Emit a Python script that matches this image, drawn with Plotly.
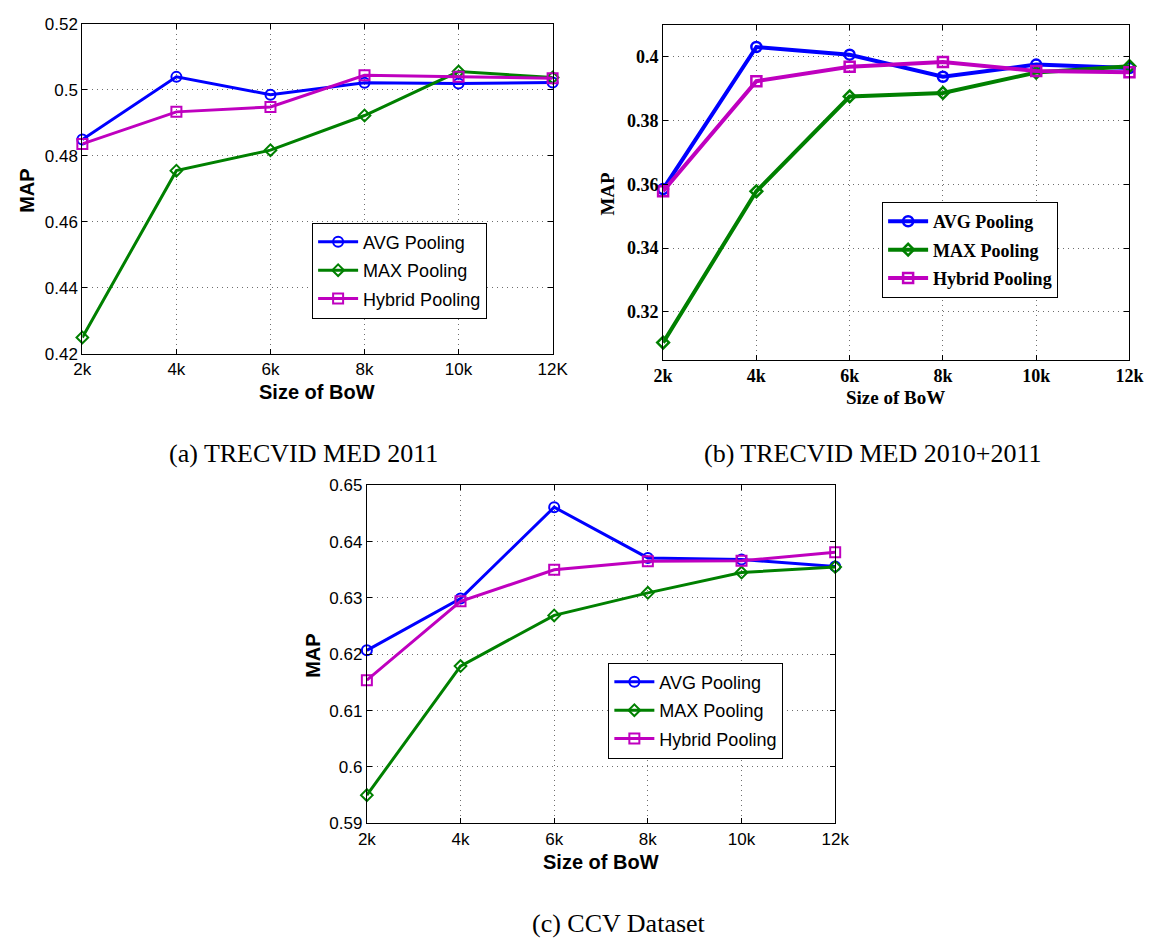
import plotly.graph_objects as go

W, H = 1166, 946

# ---------------- data ----------------
bow_sizes = [2, 4, 6, 8, 10, 12]
xticks_a = ["2k", "4k", "6k", "8k", "10k", "12K"]
xticks_bc = ["2k", "4k", "6k", "8k", "10k", "12k"]

yticks_a = [0.42, 0.44, 0.46, 0.48, 0.50, 0.52]
ylabels_a = ["0.42", "0.44", "0.46", "0.48", "0.5", "0.52"]
yticks_b = [0.32, 0.34, 0.36, 0.38, 0.40]
ylabels_b = ["0.32", "0.34", "0.36", "0.38", "0.4"]
yticks_c = [0.59, 0.60, 0.61, 0.62, 0.63, 0.64, 0.65]
ylabels_c = ["0.59", "0.6", "0.61", "0.62", "0.63", "0.64", "0.65"]

series_names = ["AVG Pooling", "MAX Pooling", "Hybrid Pooling"]

avg_a = [0.4849, 0.5039, 0.4985, 0.5021, 0.5019, 0.5022]
max_a = [0.4250, 0.4755, 0.4817, 0.4922, 0.5055, 0.5037]
hyb_a = [0.4836, 0.4933, 0.4948, 0.5044, 0.5039, 0.5035]

avg_b = [0.3585, 0.4030, 0.4006, 0.3937, 0.3975, 0.3964]
max_b = [0.3104, 0.3578, 0.3875, 0.3886, 0.3950, 0.3970]
hyb_b = [0.3578, 0.3923, 0.3968, 0.3983, 0.3955, 0.3951]

avg_c = [0.6207, 0.6299, 0.6461, 0.6371, 0.6368, 0.6356]
max_c = [0.5950, 0.6179, 0.6269, 0.6309, 0.6345, 0.6355]
hyb_c = [0.6154, 0.6294, 0.6350, 0.6365, 0.6366, 0.6381]

captions = ["(a) TRECVID MED 2011", "(b) TRECVID MED 2010+2011", "(c) CCV Dataset"]

# ---------------- style ----------------
COLORS = ["#0000FF", "#008000", "#BF00BF"]
SYMBOLS = ["circle-open", "diamond-open", "square-open"]
MSIZES = [10, 9, 10]

SANS = "Liberation Sans, Arial, sans-serif"
SERIF = "Liberation Serif, Times New Roman, serif"


def px_dom_x(l, r):
    return [l / W, r / W]


def px_dom_y(t, b):
    return [1 - b / H, 1 - t / H]


fig = go.Figure()

panels = [
    dict(key="a", data=[avg_a, max_a, hyb_a], xa="x", ya="y", leg="legend", lw=3, mlw=2),
    dict(key="b", data=[avg_b, max_b, hyb_b], xa="x2", ya="y2", leg="legend2", lw=4, mlw=2.5),
    dict(key="c", data=[avg_c, max_c, hyb_c], xa="x3", ya="y3", leg="legend3", lw=3, mlw=2),
]

for p in panels:
    for i, ys in enumerate(p["data"]):
        fig.add_trace(go.Scatter(
            x=bow_sizes, y=ys, name=series_names[i], mode="lines+markers",
            line=dict(color=COLORS[i], width=p["lw"]),
            marker=dict(symbol=SYMBOLS[i], size=MSIZES[i], color=COLORS[i],
                        line=dict(color=COLORS[i], width=p["mlw"])),
            xaxis=p["xa"], yaxis=p["ya"], legend=p["leg"], cliponaxis=False,
            legendgroup=f"{p['key']}{i}",
        ))


def axis_common(font):
    return dict(
        showline=True, linecolor="black", linewidth=1, mirror="ticks",
        ticks="inside", ticklen=5, tickcolor="black", tickwidth=1,
        showgrid=True, gridcolor="#6e6e6e", griddash="1px,4px", gridwidth=1,
        zeroline=False, tickfont=font,
    )


font_a = dict(family=SANS, size=17, color="black")
font_b = dict(family=SERIF, size=18, color="black", weight="bold")


def legend_cfg(x, y, font):
    return dict(x=x / W, y=1 - y / H, xanchor="left", yanchor="top",
                bgcolor="white", bordercolor="black", borderwidth=1,
                font=font, traceorder="grouped", tracegroupgap=2, itemwidth=40)


fig.update_layout(
    width=W, height=H, margin=dict(l=0, r=0, t=0, b=0),
    paper_bgcolor="white", plot_bgcolor="white", showlegend=True,
    xaxis=dict(domain=px_dom_x(74, 555), range=[2, 12], tickvals=bow_sizes,
               ticktext=xticks_a, anchor="y", **axis_common(font_a)),
    yaxis=dict(domain=px_dom_y(15, 352), range=[0.42, 0.52], tickvals=yticks_a,
               ticktext=ylabels_a, anchor="x", **axis_common(font_a)),
    xaxis2=dict(domain=px_dom_x(668, 1145), range=[2, 12], tickvals=bow_sizes,
                ticktext=xticks_bc, anchor="y2", **axis_common(font_b)),
    yaxis2=dict(domain=px_dom_y(16, 358), range=[0.305, 0.41], tickvals=yticks_b,
                ticktext=ylabels_b, anchor="x2", **axis_common(font_b)),
    xaxis3=dict(domain=px_dom_x(365, 844), range=[2, 12], tickvals=bow_sizes,
                ticktext=xticks_bc, anchor="y3", **axis_common(font_a)),
    yaxis3=dict(domain=px_dom_y(486, 831), range=[0.59, 0.65], tickvals=yticks_c,
                ticktext=ylabels_c, anchor="x3", **axis_common(font_a)),
    legend=legend_cfg(309, 218, dict(family=SANS, size=18, color="black")),
    legend2=legend_cfg(892, 197, dict(family=SERIF, size=18, color="black", weight="bold")),
    legend3=legend_cfg(612, 667, dict(family=SANS, size=18, color="black")),
)

ann = []


def txt(x, y, text, font, angle=0):
    ann.append(dict(x=x / W, y=1 - y / H, xref="paper", yref="paper", text=text,
                    showarrow=False, font=font, textangle=angle,
                    xanchor="center", yanchor="middle"))


title_sans = dict(family=SANS, size=20, color="black", weight="bold")
title_serif = dict(family=SERIF, size=19, color="black", weight="bold")
cap_font = dict(family=SERIF, size=26, color="black")

txt(18, 186, "MAP", title_sans, -90)
txt(314, 391, "Size of BoW", title_sans)
txt(611, 188, "MAP", title_serif, -90)
txt(906, 396, "Size of BoW", title_serif)
txt(310, 660, "MAP", title_sans, -90)
txt(604, 870, "Size of BoW", title_sans)

txt(300, 454, captions[0], cap_font)
txt(882, 454, captions[1], cap_font)
txt(623, 933, captions[2], cap_font)

fig.update_layout(annotations=ann)

fig.write_html("out.html")
